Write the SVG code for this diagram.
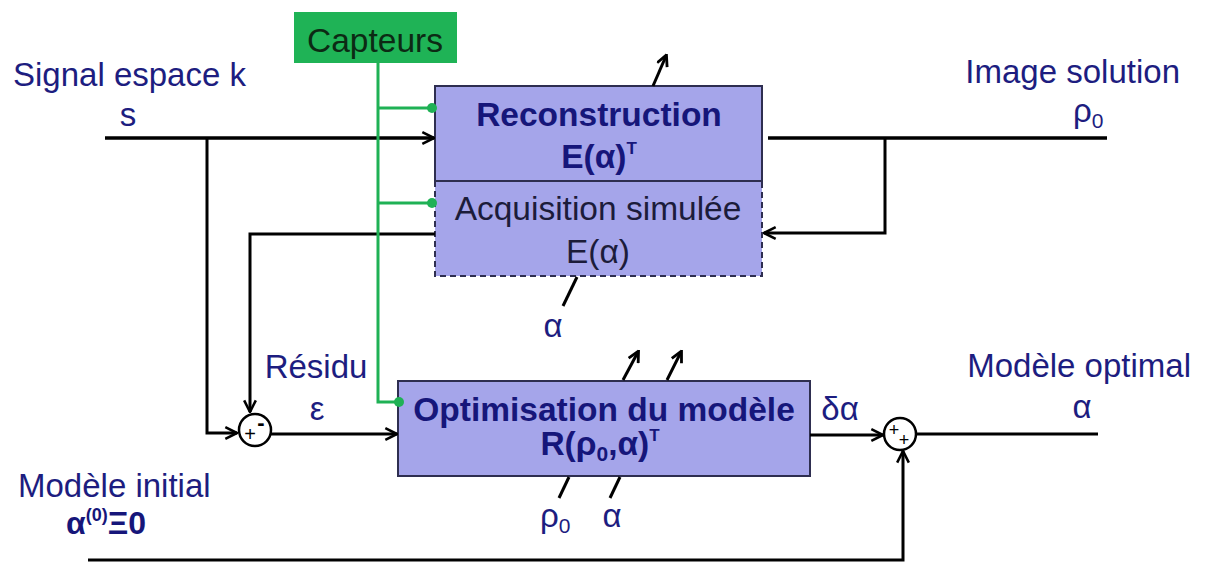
<svg xmlns="http://www.w3.org/2000/svg" width="1205" height="563" viewBox="0 0 1205 563">
<style>
text{font-family:"Liberation Sans",Arial,sans-serif;}
.lbl{font-size:33px;fill:#1d1d80;}
.blk{font-size:33.5px;font-weight:bold;fill:#16167a;}
.acq{font-size:33.5px;fill:#1c1c3a;}
.box{fill:#a5a5ea;stroke:#2e2e50;stroke-width:2;}
.ln{fill:none;stroke:#000;stroke-width:3.5;}
.thin{fill:none;stroke:#000;stroke-width:3;}
.gr{fill:none;stroke:#1fb155;stroke-width:3;}
.dot{fill:#1fb155;}
.sum{fill:#fff;stroke:#000;stroke-width:2.5;}
</style>
<defs>
<marker id="arr" viewBox="0 0 12 12" refX="11" refY="6" markerWidth="14" markerHeight="14" markerUnits="userSpaceOnUse" orient="auto">
<path d="M1,1 L11,6 L1,11" fill="none" stroke="#000" stroke-width="2.2"/>
</marker>
<marker id="arrs" viewBox="0 0 12 12" refX="10" refY="6" markerWidth="13" markerHeight="13" markerUnits="userSpaceOnUse" orient="auto">
<path d="M1,1 L11,6 L1,11" fill="none" stroke="#000" stroke-width="2.6"/>
</marker>
</defs>

<g id="capteurs">
<rect x="294" y="12" width="163" height="51" fill="#1fb356"/>
<text x="375" y="52" text-anchor="middle" font-size="33.5" fill="#0c2a14">Capteurs</text>
</g>

<g id="reconstruction">
<rect class="box" x="435" y="86" width="327" height="95"/>
<text class="blk" x="599" y="126" text-anchor="middle">Reconstruction</text>
<text class="blk" x="599" y="168" text-anchor="middle">E(α)<tspan font-size="17" dy="-14">T</tspan></text>
</g>

<g id="acquisition">
<rect x="435" y="181" width="327" height="95" fill="#a5a5ea"/>
<line x1="435" y1="181" x2="762" y2="181" stroke="#2e2e50" stroke-width="2"/>
<path d="M435,181 V276 H762 V181" fill="none" stroke="#2e2e50" stroke-width="2" stroke-dasharray="6,4"/>
<text class="acq" x="598" y="220" text-anchor="middle">Acquisition simulée</text>
<text class="acq" x="598" y="263" text-anchor="middle">E(α)</text>
</g>

<g id="optimisation">
<rect class="box" x="398" y="381" width="412" height="95"/>
<text class="blk" x="604" y="421" text-anchor="middle">Optimisation du modèle</text>
<text class="blk" x="600" y="455" text-anchor="middle">R(ρ<tspan font-size="21" dy="6">0</tspan><tspan dy="-6">,α)</tspan><tspan font-size="17" dy="-14">T</tspan></text>
</g>

<g id="sum1">
<circle class="sum" cx="255" cy="430" r="16"/>
<text x="250" y="441" text-anchor="middle" font-size="20" fill="#000">+</text>
<text x="261" y="430" text-anchor="middle" font-size="22" font-weight="bold" fill="#000">-</text>
</g>

<g id="sum2">
<circle class="sum" cx="900" cy="434" r="16"/>
<text x="894" y="436" text-anchor="middle" font-size="18" fill="#000">+</text>
<text x="904" y="446" text-anchor="middle" font-size="18" fill="#000">+</text>
</g>

<g id="connectors">
<line class="ln" x1="105" y1="138" x2="434" y2="138" marker-end="url(#arr)"/>
<polyline class="thin" points="207,138 207,433 237,433" marker-end="url(#arr)"/>
<line class="ln" x1="768" y1="138" x2="1107" y2="138"/>
<polyline class="thin" points="885,138 885,233 764,233" marker-end="url(#arr)"/>
<polyline class="thin" points="435,234 250,234 250,412" marker-end="url(#arr)"/>
<line class="thin" x1="271" y1="434" x2="397" y2="434" marker-end="url(#arr)"/>
<line class="thin" x1="810" y1="435" x2="883" y2="435" marker-end="url(#arr)"/>
<line class="thin" x1="916" y1="434" x2="1098" y2="434"/>
<polyline class="thin" points="88,560 903,560 903,451" marker-end="url(#arr)"/>
<line class="thin" x1="653" y1="86" x2="666" y2="56" marker-end="url(#arrs)"/>
<line class="thin" x1="623" y1="380" x2="638" y2="352" marker-end="url(#arrs)"/>
<line class="thin" x1="667" y1="380" x2="681" y2="352" marker-end="url(#arrs)"/>
<line class="thin" x1="577" y1="277" x2="563" y2="306"/>
<line class="thin" x1="569" y1="477" x2="559" y2="498"/>
<line class="thin" x1="620" y1="477" x2="610" y2="498"/>
<polyline class="gr" points="378,63 378,402 400,402"/>
<line class="gr" x1="378" y1="108" x2="432" y2="108"/>
<line class="gr" x1="378" y1="203" x2="432" y2="203"/>
<circle class="dot" cx="432" cy="108" r="5"/>
<circle class="dot" cx="432" cy="203" r="5"/>
<circle class="dot" cx="399" cy="402" r="5"/>
</g>

<g id="labels">
<text class="lbl" x="13" y="86">Signal espace k</text>
<text class="lbl" x="128" y="126" text-anchor="middle">s</text>
<text class="lbl" x="1180" y="83" text-anchor="end">Image solution</text>
<text class="lbl" x="1073" y="122">ρ<tspan font-size="21" dy="6">0</tspan></text>
<text class="lbl" x="1191" y="377" text-anchor="end">Modèle optimal</text>
<text class="lbl" x="1082" y="418" text-anchor="middle">α</text>
<text class="lbl" x="316" y="378" text-anchor="middle">Résidu</text>
<text class="lbl" x="317" y="420" text-anchor="middle">ε</text>
<text class="lbl" x="840" y="420" text-anchor="middle">δα</text>
<text class="lbl" x="553" y="337" text-anchor="middle">α</text>
<text class="lbl" x="540" y="527">ρ<tspan font-size="21" dy="6">0</tspan></text>
<text class="lbl" x="612" y="527" text-anchor="middle">α</text>
<text class="lbl" x="18" y="497">Modèle initial</text>
<text x="66" y="534" font-size="32" font-weight="bold" fill="#16167a">α<tspan font-size="18" dy="-13">(0)</tspan><tspan dy="13">Ξ0</tspan></text>
</g>
</svg>
